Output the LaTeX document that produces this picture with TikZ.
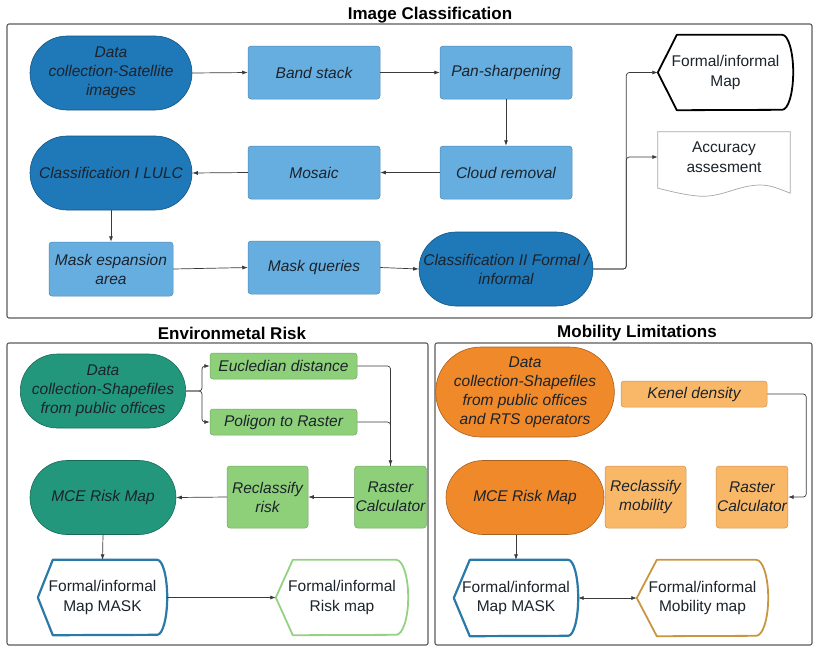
\documentclass[tikz,border=0pt]{standalone}
\usepackage{fontspec}
\setmainfont{Liberation Sans}
\usetikzlibrary{shapes.misc,arrows.meta,calc}

\definecolor{ink}{HTML}{1C232B}
\definecolor{frame}{HTML}{5A5A5A}
\definecolor{conn}{HTML}{3A3A3A}
\definecolor{blueD}{HTML}{1F78B8}
\definecolor{blueL}{HTML}{66AEE0}
\definecolor{teal}{HTML}{23977C}
\definecolor{greenL}{HTML}{8ED07A}
\definecolor{orangeD}{HTML}{F0892A}
\definecolor{orangeL}{HTML}{F9B868}
\definecolor{maskblue}{HTML}{2B79A6}
\definecolor{riskgreen}{HTML}{94D183}
\definecolor{mobbrown}{HTML}{C89640}

% outline of a "display" symbol: pointed left end, half-ellipse right end
% #1 node, #2 depth of the point, #3 bulge of the right end, #4 half height, #5 style
\newcommand\dispout[5]{%
  \draw[#5] (#1.west) -- ($(#1.north west)+(#2,0)$) -- ($(#1.north east)+(-#3,0)$)
    arc[start angle=90,end angle=-90,x radius=#3pt,y radius=#4pt]
    -- ($(#1.south west)+(#2,0)$) -- cycle;}

\begin{document}
\begin{tikzpicture}[x=1pt,y=-1pt,
  body/.style={font=\fontsize{15.5}{19}\selectfont\itshape, text=ink, align=center, inner sep=1pt},
  plain/.style={font=\fontsize{15.5}{19.5}\selectfont, text=ink, align=center, inner sep=1pt},
  title/.style={font=\fontsize{17}{20}\selectfont\bfseries, text=black},
  term/.style={body, rounded rectangle, draw=#1!70!black, fill=#1, line width=0.6pt},
  proc/.style={body, rectangle, rounded corners=3pt, fill=#1, draw=#1!80!black, line width=0.5pt},
  dispnode/.style={plain, rectangle, draw=none},
  box/.style={draw=frame, line width=1.1pt, rounded corners=2pt},
  conn/.style={draw=conn, line width=0.7pt, rounded corners=3pt, -{Latex[length=5.5pt,width=4pt]}},
  line/.style={draw=conn, line width=0.7pt, rounded corners=3pt}
]
\useasboundingbox (0,0) rectangle (816,649);

% ---------- frames and titles ----------
\draw[box] (7,24) rectangle (812,318);
\draw[box] (7,343) rectangle (428,645);
\draw[box] (435,343) rectangle (812,645);
\node[title] (tIC) at (430,15) {Image Classification};
\node[title] (tER) at (232,333) {Environmetal Risk};
\node[title] (tML) at (637,333) {Mobility Limitations};

% ---------- Image Classification ----------
\node[term=blueD, minimum width=164pt, minimum height=74pt] (d1) at (111,73)
  {Data\\collection-Satellite\\images};
\node[proc=blueL, minimum width=132pt, minimum height=53pt] (band) at (314,72.5) {Band stack};
\node[proc=blueL, minimum width=132pt, minimum height=53pt] (pan) at (506,72.5) {Pan-sharpening};
\node[proc=blueL, minimum width=132pt, minimum height=53pt] (cloud) at (506,172.5) {Cloud removal};
\node[proc=blueL, minimum width=132pt, minimum height=53pt] (mosaic) at (314,172.5) {Mosaic};
\node[term=blueD, minimum width=164pt, minimum height=74pt] (cls1) at (111,173) {Classification I LULC};
\node[proc=blueL, minimum width=124pt, minimum height=54pt] (mexp) at (111,269) {Mask espansion\\area};
\node[proc=blueL, minimum width=132pt, minimum height=53pt] (mq) at (314,267.5) {Mask queries};
\node[term=blueD, minimum width=176pt, minimum height=74pt] (cls2) at (506,269)
  {Classification II Formal /\\informal};

\node[dispnode, minimum width=135pt, minimum height=75pt] (fmap) at (725.5,72.5) {Formal/informal\\Map};
\dispout{fmap}{19}{11}{37.5}{draw=black, line width=1.8pt, line join=round}

\node[plain, minimum width=132pt, minimum height=50pt] (acc) at (724,157) {Accuracy\\assesment};
\draw[draw=gray!70, line width=0.7pt, fill=white]
  (acc.north west) -- (acc.north east) -- ($(acc.south east)+(0,11)$)
  .. controls ($(acc.south east)+(-15,5)$) and ($(acc.south east)+(-22,2)$) .. ($(acc.south east)+(-35,3)$)
  .. controls ($(acc.south east)+(-55,5)$) and ($(acc.south east)+(-70,15)$) .. ($(acc.south east)+(-90,14)$)
  .. controls ($(acc.south east)+(-105,13)$) and ($(acc.south east)+(-120,9)$) .. ($(acc.south west)+(0,6)$)
  -- cycle;
\node[plain] at (acc) {Accuracy\\assesment};

\draw[conn] (d1.east) -- (band.west);
\draw[conn] (band.east) -- (pan.west);
\draw[conn] (pan.south) -- (cloud.north);
\draw[conn] (cloud.west) -- (mosaic.east);
\draw[conn] (mosaic.west) -- (cls1.east);
\draw[conn] (cls1.south) -- (mexp.north);
\draw[conn] (mexp.east) -- (mq.west);
\draw[conn] (mq.east) -- (cls2.west);
\draw[conn] (cls2.east) -- ++(33,0) |- (fmap.west);
\draw[conn] (cls2.east) -- ++(33,0) |- (acc.west);

% ---------- Environmental Risk ----------
\node[term=teal, minimum width=148pt, minimum height=74pt] (edata) at (103,391)
  {Data\\collection-Shapefiles\\from public offices};
\node[proc=greenL, minimum width=147pt, minimum height=26pt] (eucl) at (283.5,366) {Eucledian distance};
\node[proc=greenL, minimum width=147pt, minimum height=26pt] (poly) at (283.5,422) {Poligon to Raster};
\node[proc=greenL, minimum width=65pt, minimum height=62pt] (rcalc) at (390.5,497) {Raster\\Calculator};
\node[proc=greenL, minimum width=81pt, minimum height=62pt] (rrisk) at (267.5,497) {Reclassify\\risk};
\node[term=teal, minimum width=148pt, minimum height=74pt] (emce) at (103,497.5) {MCE Risk Map};
\node[dispnode, minimum width=129pt, minimum height=75pt] (emask) at (102.5,597.5) {Formal/informal\\Map MASK};
\dispout{emask}{15}{10}{37.5}{draw=maskblue, line width=2.2pt, line join=round}
\node[dispnode, minimum width=132pt, minimum height=75pt] (rmap) at (342,597.5) {Formal/informal\\Risk map};
\dispout{rmap}{17}{12}{37.5}{draw=riskgreen, line width=1.8pt, line join=round}

\draw[conn] (edata.east) -- ++(16,0) |- (eucl.west);
\draw[conn] (edata.east) -- ++(16,0) |- (poly.west);
\draw[line] (poly.east) -| (rcalc.north);
\draw[conn] (eucl.east) -| (rcalc.north);
\draw[conn] (rcalc.west) -- (rrisk.east);
\draw[conn] (rrisk.west) -- (emce.east);
\draw[conn] (emce.south) -- (emask.north);
\draw[conn] (emask.east) -- (rmap.west);

% ---------- Mobility Limitations ----------
\node[term=orangeD, minimum width=160pt, minimum height=90pt] (mdata) at (525,392)
  {Data\\collection-Shapefiles\\from public offices\\and RTS operators};
\node[proc=orangeL, minimum width=146pt, minimum height=26pt] (kern) at (694,394) {Kenel density};
\node[proc=orangeL, minimum width=81pt, minimum height=62pt] (rmob) at (645.5,497) {Reclassify\\mobility};
\node[proc=orangeL, minimum width=66pt, minimum height=62pt] (mcalc) at (752,497) {Raster\\Calculator};
\node[term=orangeD, minimum width=160pt, minimum height=74pt] (mmce) at (525,497.5) {MCE Risk Map};
\node[dispnode, minimum width=124pt, minimum height=76pt] (mmask) at (516,598) {Formal/informal\\Map MASK};
\dispout{mmask}{16}{10}{38}{draw=maskblue, line width=2.2pt, line join=round}
\node[dispnode, minimum width=131pt, minimum height=76pt] (mmap) at (702.5,598) {Formal/informal\\Mobility map};
\dispout{mmap}{20}{12}{38}{draw=mobbrown, line width=1.8pt, line join=round}

\draw[conn] (kern.east) -- ++(39,0) |- (mcalc.east);
\draw[conn] (mmce.south -| mmask.north) -- (mmask.north);
\draw[conn, {Latex[length=5.5pt,width=4pt]}-{Latex[length=5.5pt,width=4pt]}] (mmask.east) -- (mmap.west);
\end{tikzpicture}
\end{document}
